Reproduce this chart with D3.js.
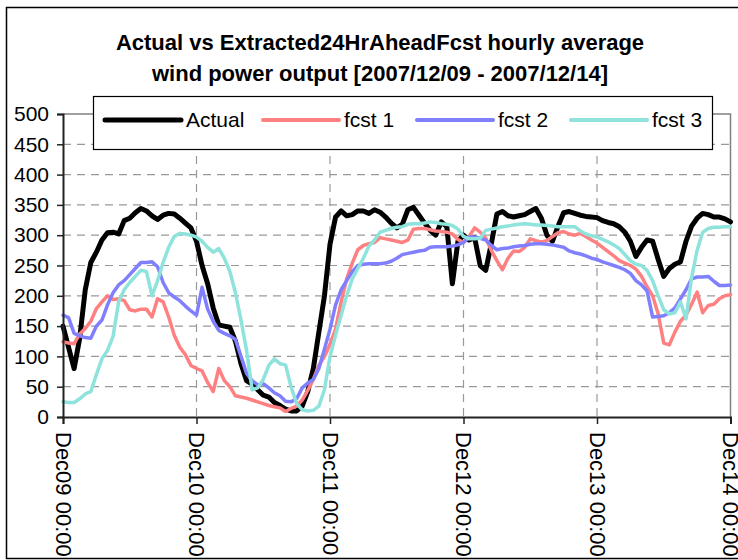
<!DOCTYPE html>
<html><head><meta charset="utf-8">
<script src="https://cdn.jsdelivr.net/npm/d3@7"></script>
<style>
body{margin:0;background:#fff}
svg{display:block}
text{font-family:Arial,"Liberation Sans",sans-serif}
</style></head>
<body>
<svg id="chart" width="738" height="560"></svg>
<script>
// ---- data (hourly, 2007-12-09 00:00 .. 2007-12-14 00:00) ----
const startTime = new Date(2007, 11, 9, 0, 0);
const seriesNames = ["Actual", "fcst 1", "fcst 2", "fcst 3"];
const actual = [150,115,80,130,210,255,272,292,304,305,302,324,328,337,344,340,332,326,333,336,
335,328,320,312,290,250,220,180,152,150,148,125,88,60,54,45,36,33,24,19,
13,10,10,18,42,80,140,200,285,330,340,332,334,340,340,336,342,338,330,320,
312,318,342,346,333,320,308,300,322,314,220,290,300,292,296,250,242,286,335,339,
332,330,332,334,339,344,328,300,290,315,337,339,336,333,331,330,329,324,321,319,
314,305,290,265,280,292,290,260,232,245,252,256,290,315,328,336,334,330,330,327,322];
const fcst1 = [124,122,121,137,146,158,179,190,200,194,195,192,177,175,178,178,165,195,190,165,
135,115,103,85,80,76,57,42,80,60,50,35,33,31,28,25,22,19,17,15,
9,14,18,28,44,62,85,100,120,145,190,228,254,276,283,286,288,296,294,292,
290,288,292,310,311,311,309,307,306,305,302,293,288,298,312,305,295,275,258,243,
262,274,273,280,294,291,289,291,298,304,306,302,300,303,298,292,287,280,273,266,
258,254,250,244,232,215,200,170,122,119,140,158,168,186,206,172,184,186,195,200,202];
const fcst2 = [168,164,138,134,131,130,150,160,185,205,218,225,235,245,255,255,256,248,222,205,
198,192,183,175,168,214,178,158,143,138,134,128,100,72,60,53,55,48,40,35,
26,25,30,48,56,62,80,112,145,185,210,225,240,250,252,253,253,253,254,257,
262,268,270,272,274,275,280,281,281,281,282,284,288,297,297,295,292,283,276,278,
279,281,282,283,285,286,286,285,284,282,280,274,271,269,266,262,260,256,253,250,
247,243,237,225,218,208,165,166,167,172,180,195,210,228,231,231,232,224,217,217,218];
const fcst3 = [25,24,24,30,38,42,70,96,110,133,190,210,222,232,242,240,200,225,255,280,
298,303,302,300,297,290,280,272,278,262,240,205,160,110,45,48,62,85,96,88,
86,50,22,12,10,11,18,45,100,135,168,200,228,245,262,282,292,305,308,311,
313,314,318,319,319,320,322,321,319,318,316,310,298,294,294,295,308,310,312,314,
315,317,318,319,318,317,317,316,315,314,314,314,314,307,302,299,297,293,289,284,
278,268,258,252,250,242,225,200,177,170,172,190,162,230,275,305,311,313,313,314,314];
const xTickLabels = ["Dec09 00:00","Dec10 00:00","Dec11 00:00","Dec12 00:00","Dec13 00:00","Dec14 00:00"];
const yTickValues = [0,50,100,150,200,250,300,350,400,450,500];
const titleLines = ["Actual vs Extracted24HrAheadFcst hourly average",
                    "wind power output [2007/12/09 - 2007/12/14]"];

// ---- build ----
const svg = d3.select("#chart");
const plot = {left:63, right:730.5, top:114, bottom:417};
const times = actual.map((_, i) => d3.timeHour.offset(startTime, i));
const tickTimes = xTickLabels.map((_, i) => d3.timeDay.offset(startTime, i));

const x = d3.scaleTime().domain([startTime, d3.timeDay.offset(startTime, 5)]).range([plot.left, plot.right]);
const y = d3.scaleLinear().domain([0, 500]).range([plot.bottom, plot.top]);

// chart background
svg.append("rect").attr("x",6.5).attr("y",7.5).attr("width",736).attr("height",551)
  .attr("fill","#fff");

// title
svg.append("g").selectAll("text").data(titleLines).join("text")
  .attr("x",380).attr("y",(d,i)=>50+i*31).attr("text-anchor","middle")
  .attr("font-size","22px").attr("font-weight","bold").attr("fill","#000").text(d=>d);

// gridlines
const grid = svg.append("g");
grid.selectAll("line.h").data(yTickValues.filter(v=>v>0 && v<500)).join("line")
  .attr("x1",plot.left).attr("x2",plot.right).attr("y1",d=>y(d)).attr("y2",d=>y(d))
  .attr("stroke","#999").attr("stroke-width",1.2).attr("stroke-dasharray","8,6");
grid.selectAll("line.v").data(tickTimes.slice(1,5)).join("line")
  .attr("x1",d=>x(d)).attr("x2",d=>x(d)).attr("y1",plot.top).attr("y2",plot.bottom)
  .attr("stroke","#999").attr("stroke-width",1.2).attr("stroke-dasharray","8,6");
// plot area top/right border
svg.append("path").attr("d",`M${plot.left},${plot.top}H${plot.right}V${plot.bottom}`)
  .attr("fill","none").attr("stroke","#808080").attr("stroke-width",1.5);

// lines
const colors = ["#000000","#FF8080","#8080FF","#8EE3DC"];
const widths = [5,3.5,3.5,3.5];
const allSeries = [actual, fcst1, fcst2, fcst3];
const line = d3.line().x((d,i)=>x(times[i])).y(d=>y(d));
svg.append("g").selectAll("path").data(allSeries).join("path")
  .attr("d",d=>line(d)).attr("fill","none")
  .attr("stroke",(d,i)=>colors[i]).attr("stroke-width",(d,i)=>widths[i])
  .attr("stroke-linejoin","round").attr("stroke-linecap","round");

// axes
const yAxis = svg.append("g").attr("transform",`translate(${plot.left},0)`)
  .call(d3.axisLeft(y).tickValues(yTickValues).tickSize(6).tickPadding(8).tickFormat(d3.format("d")));
yAxis.select(".domain").attr("stroke","#222").attr("stroke-width",2);
yAxis.selectAll(".tick line").attr("stroke","#222").attr("stroke-width",1.5);
yAxis.selectAll(".tick text").attr("font-size","21px").attr("fill","#000")
  .attr("font-family","Arial, 'Liberation Sans', sans-serif");

const xAxis = svg.append("g").attr("transform",`translate(0,${plot.bottom})`)
  .call(d3.axisBottom(x).tickValues(tickTimes).tickSize(7).tickFormat((d,i)=>xTickLabels[i]));
xAxis.select(".domain").attr("stroke","#222").attr("stroke-width",2);
xAxis.selectAll(".tick line").attr("stroke","#222").attr("stroke-width",1.5);
xAxis.selectAll(".tick text").attr("font-size","22px").attr("fill","#000")
  .attr("font-family","Arial, 'Liberation Sans', sans-serif")
  .attr("transform","rotate(90)").attr("text-anchor","start")
  .attr("x",15).attr("y",0).attr("dy","0.35em");

// legend
const lg = svg.append("g");
lg.append("rect").attr("x",93.5).attr("y",96.5).attr("width",619).attr("height",53)
  .attr("fill","#fff").attr("stroke","#000").attr("stroke-width",1.2);
const legX = [105, 263, 417, 571];
const items = lg.selectAll("g").data(seriesNames).join("g")
  .attr("transform",(d,i)=>`translate(${legX[i]},120)`);
items.append("line").attr("x1",0).attr("x2",76).attr("y1",0).attr("y2",0)
  .attr("stroke",(d,i)=>colors[i]).attr("stroke-width",(d,i)=>i===0?5:4).attr("stroke-linecap","round");
items.append("text").attr("x",81).attr("y",0).attr("dy","0.35em").attr("font-size","21px")
  .attr("fill","#000").text(d=>d);

// outer chart border (on top, as in the reference where labels run under it)
svg.append("rect").attr("x",6.5).attr("y",7.5).attr("width",736).attr("height",551)
  .attr("fill","none").attr("stroke","#000").attr("stroke-width",1.5);
</script>
</body></html>
